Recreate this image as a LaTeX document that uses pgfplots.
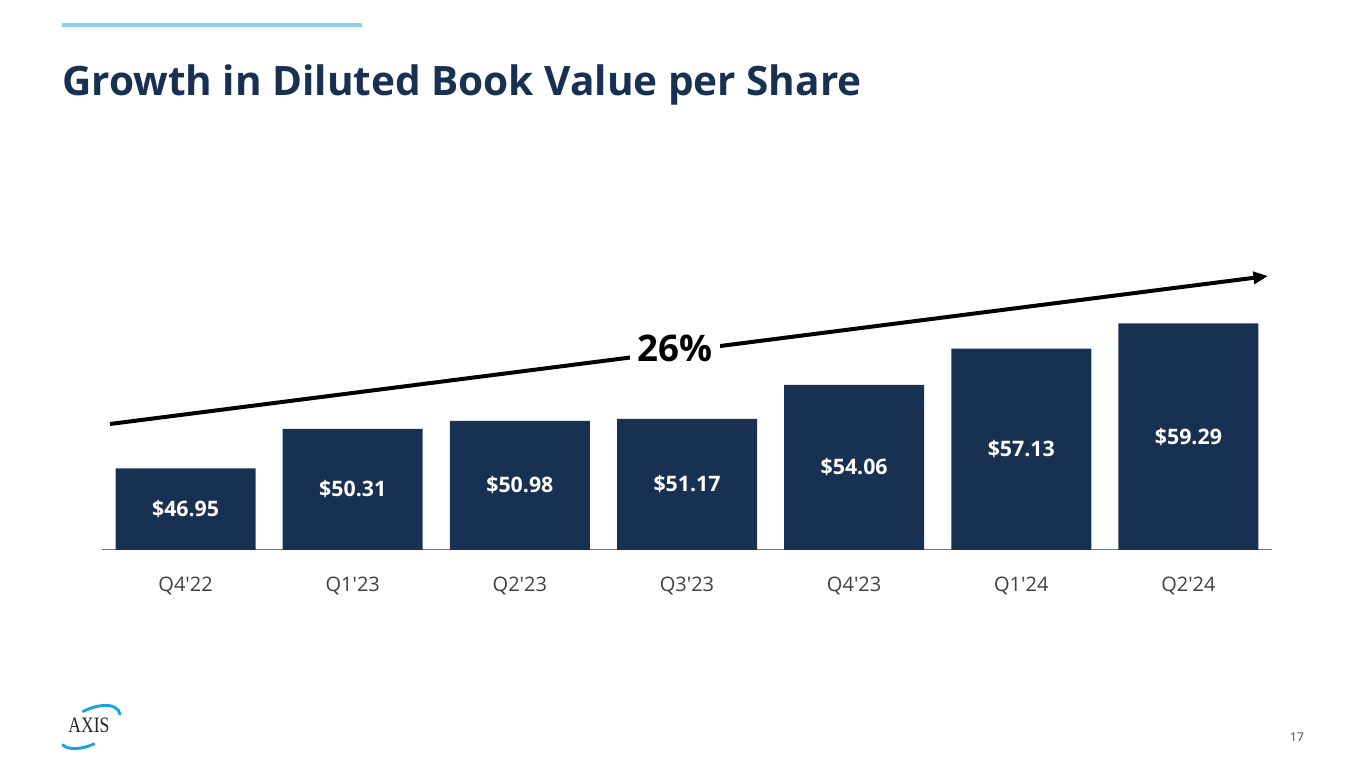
\documentclass[border=0pt]{standalone}
\usepackage{pgfplots}
\pgfplotsset{compat=1.18}
\usepackage{pgfplotstable}
\usepackage{fontspec}
\setmainfont{Open Sans}[Ligatures=TeXOff]
\newfontfamily\logofont{Liberation Serif}
\usetikzlibrary{arrows.meta}
\definecolor{navy}{HTML}{183153}
\definecolor{lightblue}{HTML}{8ECFEA}
\definecolor{axisblue}{HTML}{1BA3DD}
\definecolor{ticktext}{HTML}{404040}

\pgfplotstableread{
x y
0 46.95
1 50.31
2 50.98
3 51.17
4 54.06
5 57.13
6 59.29
}\bvps

\begin{document}
\begin{tikzpicture}[x=0.75pt,y=0.75pt]
\path[use as bounding box] (0,0) rectangle (1365,768);
% top accent line
\draw[lightblue, line width=3pt] (62,743) -- (362,743);
% title
\node[anchor=base west, inner sep=0pt, text=navy,
      font=\bfseries\fontsize{30.4}{36}\selectfont] at (62,672)
      {Growth in Diluted Book Value per Share};

\begin{axis}[
  at={(76.5pt,163.5pt)}, anchor=south west,
  scale only axis,
  width=877.5pt, height=176.25pt,
  xmin=-0.5, xmax=6.5, ymin=40, ymax=60,
  axis x line*=bottom, axis y line=none,
  x axis line style={-, draw=black!55, line width=0.75pt},
  xtick={0,1,2,3,4,5,6},
  xticklabels={Q4'22,Q1'23,Q2'23,Q3'23,Q4'23,Q1'24,Q2'24},
  major tick length=0pt,
  ytick=\empty,
  xticklabel style={anchor=base, yshift=-31.5pt, text=ticktext,
                    font=\fontsize{15}{18}\selectfont},
  /pgf/number format/assume math mode=true,
]
\addplot[ybar, bar width=105pt, fill=navy, draw=none] table[x=x,y=y]{\bvps};
\addplot[draw=none, mark=none,
  point meta=\thisrow{y},
  nodes near coords={\$\pgfmathprintnumber[fixed,fixed zerofill,precision=2,assume math mode=true]{\pgfplotspointmeta}},
  every node near coord/.style={anchor=center, text=white,
     font=\bfseries\fontsize{16}{19}\selectfont}]
  table[x=x, y expr={(\thisrow{y}+40)/2}]{\bvps};
\end{axis}

% growth arrow
\draw[line width=3pt, -{Triangle[length=11pt,width=9pt]}] (110,344) -- (1268,492);
\node[fill=white, inner xsep=6pt, inner ysep=4pt,
      font=\bfseries\fontsize{27.5}{32}\selectfont] at (675,420) {26\%};

% logo
\begin{scope}[rotate around={28:(90,41)}]
\draw[axisblue, line width=2.2pt, line cap=round]
  ([shift={(190:33 and 17)}]90,41) arc[start angle=190, end angle=262, x radius=33, y radius=17];
\draw[axisblue, line width=2.2pt, line cap=round]
  ([shift={(-10:33 and 17)}]90,41) arc[start angle=-10, end angle=88, x radius=33, y radius=17];
\end{scope}
\node[inner sep=0pt, anchor=base, font=\logofont\fontsize{16.5}{18}\selectfont, text=black!85]
   at (89,35) {\scalebox{0.8}[1]{AXIS}};

% page number
\node[inner sep=0pt, font=\fontsize{9}{11}\selectfont, text=ticktext] at (1297,31) {17};
\end{tikzpicture}
\end{document}
